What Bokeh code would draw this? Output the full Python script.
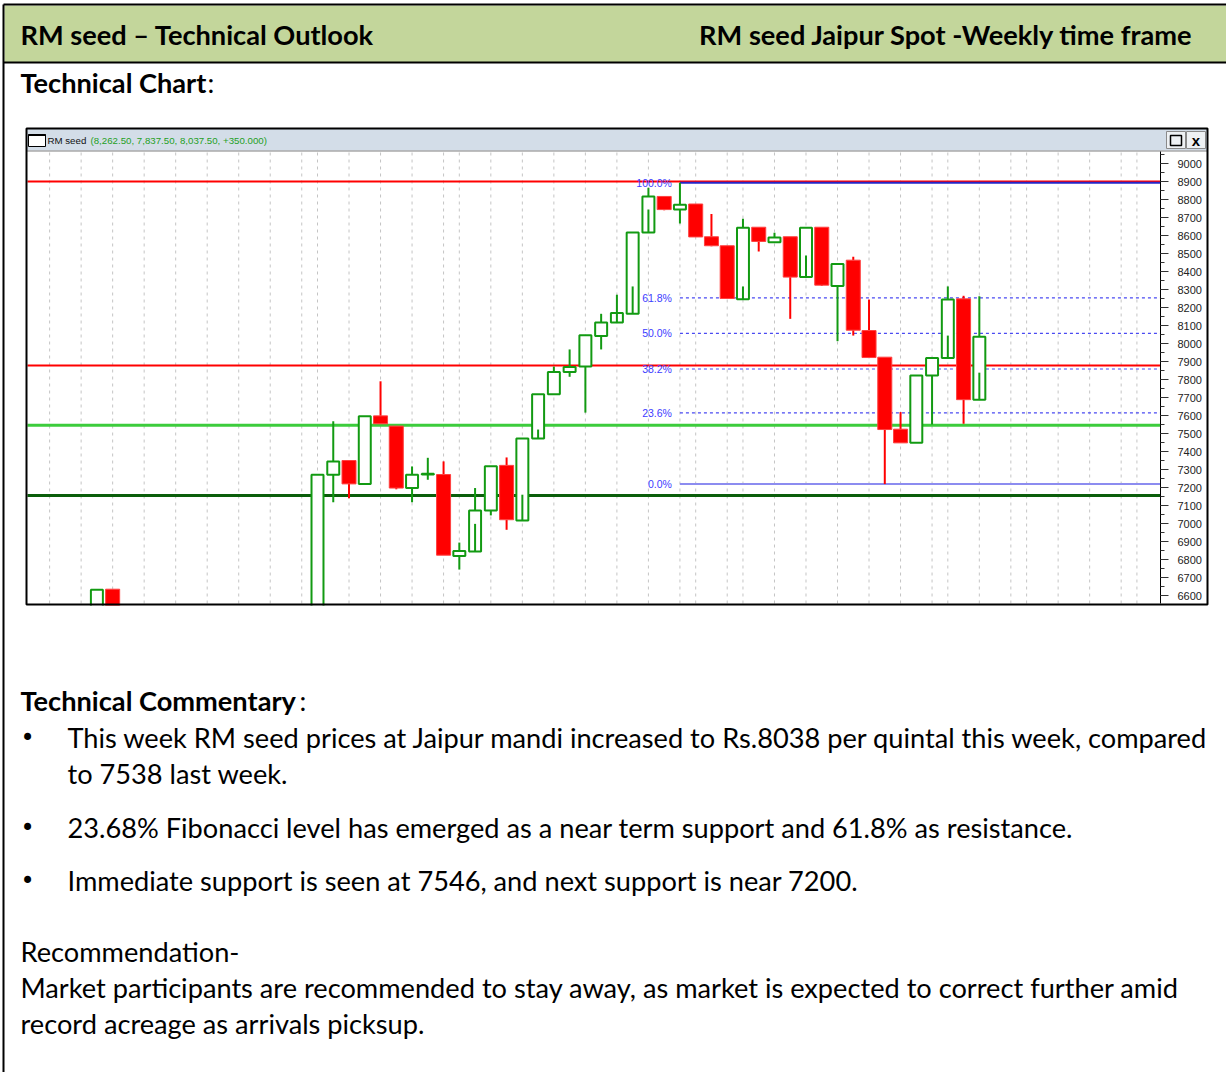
import numpy as np
from bokeh.plotting import figure
from bokeh.models import Range1d, LinearAxis, SingleIntervalTicker, ColumnDataSource
from bokeh.core.properties import value
from bokeh.embed import file_html
from bokeh.resources import INLINE

nan = float("nan")

# ---------------- data (weekly candles, week index) ----------------
weeks = [-14, -13, 0, 1, 2, 3, 4, 5, 6, 7, 8, 9, 10, 11, 12, 13, 14, 15, 16, 17, 18, 19,
         20, 21, 22, 23, 24, 25, 26, 27, 28, 29, 30, 31, 32, 33, 34, 35, 36, 37, 38, 39,
         40, 41, 42]
opens = [6480, 6635, 6500, 7271, 7350, 7220, 7598, 7541, 7197, 7272, 7272, 6820, 6844,
         7072, 7323, 7017, 7472, 7718, 7841, 7872, 8041, 8117, 8165, 8617, 8817, 8744,
         8775, 8593, 8543, 8246, 8646, 8563, 8593, 8369, 8646, 8320, 8463, 8072, 7924,
         7524, 7448, 7822, 7920, 8248, 7687.5]
highs = [6632, 6635, 7271, 7568, 7350, 7596, 7790, 7541, 7317, 7365, 7345, 6894, 7197,
         7318, 7367, 7472, 7718, 7872, 7967, 8046, 8165, 8271, 8617, 8865, 8817, 8893,
         8775, 8719, 8543, 8693, 8646, 8615, 8593, 8643, 8646, 8441, 8482, 8244, 7924,
         7619, 7822, 7920, 8317, 8265, 8262.5]
lows = [6450, 6450, 6480, 7118, 7140, 7220, 7554, 7190, 7118, 7243, 6824, 6744, 6844,
        7045, 6965, 7017, 7472, 7718, 7815, 7616, 7967, 8117, 8165, 8617, 8740, 8667,
        8592, 8540, 8250, 8246, 8511, 8563, 8137, 8369, 8320, 8013, 8044, 7922, 7219,
        7448, 7448, 7550, 7920, 7554, 7687.5]
closes = [6632, 6480, 7271, 7345, 7220, 7596, 7554, 7197, 7271, 7276, 6824, 6847, 7072,
          7318, 7021, 7472, 7718, 7841, 7870, 8046, 8117, 8169, 8617, 8817, 8744, 8771,
          8592, 8543, 8250, 8643, 8567, 8589, 8369, 8643, 8324, 8441, 8074, 7922, 7522,
          7448, 7822, 7920, 8245, 7688, 8037.5]
# inner wick trace visible inside some hollow candles
inner_hi = [nan, nan, nan, nan, nan, nan, nan, nan, nan, nan, nan, nan, 6998,
            nan, nan, 7160, 7522, nan, nan, nan, nan, 8169, 8317, 8744, nan, nan,
            nan, nan, nan, 8317, nan, nan, nan, 8489, nan, nan, nan, nan, nan,
            nan, nan, nan, 8044, nan, 7838]

grid_weeks = [-17, -15, -13, -11, -9, -7, -5, -3, -1, 0, 2, 4, 6, 8, 9, 11, 13, 15, 17,
              19, 21, 23, 24, 26, 27, 29, 31, 33, 35, 37, 39, 40, 42, 44, 45, 47, 49, 51, 52]

hline_levels = [8900, 7878, 7546, 7155]
hline_colors = ["#ff0000", "#ff0000", "#3ccc3c", "#0b5e0b"]
hline_widths = [2, 2, 3, 3]

fib_ratios = [1.0, 0.618, 0.5, 0.382, 0.236, 0.0]
fib_hi_week = 23
fib_lo_week = 36

header_name = "RM seed"
header_values = "(8,262.50, 7,837.50, 8,037.50, +350.000)"

title_left = "RM seed \u2013 Technical Outlook"
title_right = "RM seed Jaipur Spot -Weekly time frame"
section1 = "Technical Chart"
section2 = "Technical Commentary"
bullet_lines = [
    "This week RM seed prices at Jaipur mandi increased to Rs.8038 per quintal this week, compared",
    "to 7538 last week.",
    "23.68% Fibonacci level has emerged as a near term support and 61.8% as resistance.",
    "Immediate support is seen at 7546, and next support is near 7200.",
]
reco_lines = [
    "Recommendation-",
    "Market participants are recommended to stay away, as market is expected to correct further amid",
    "record acreage as arrivals picksup.",
]

# ---------------- page geometry (screen pixels) ----------------
W, H = 1226, 1072
WEEK0_PX, PX_PER_WEEK = 317.0, 15.758
P9000_PX, PX_PER_UNIT = 163.0, 0.18


def wk(px):
    return (px - WEEK0_PX) / PX_PER_WEEK


def pr(py):
    return 9000 - (py - P9000_PX) / PX_PER_UNIT


PLOT_L, PLOT_R, PLOT_T, PLOT_B = 27, 1160, 151, 603
WIN_L, WIN_R, WIN_T, WIN_B = 26, 1207, 128, 604

p = figure(width=W, height=H, x_range=Range1d(0, W), y_range=Range1d(H, 0),
           output_backend="svg", toolbar_location=None, min_border=0,
           x_axis_location=None, y_axis_location=None)
p.grid.visible = False
p.outline_line_color = None
p.background_fill_color = "white"
p.border_fill_color = "white"
p.extra_x_ranges = {"week": Range1d(wk(0), wk(W))}
p.extra_y_ranges = {"price": Range1d(pr(H), pr(0))}

FONT = value("Lato")
SMALL = value("Liberation Sans")

# page border + title bar
p.quad(left=[4], right=[W], top=[5], bottom=[62], fill_color="#c3d69b", line_color=None)
p.segment(x0=[3, 3, 3], y0=[4, 62, 4], x1=[W, W, 3], y1=[4, 62, H],
          line_color="black", line_width=2)

# chart window
p.quad(left=[WIN_L], right=[WIN_R], top=[WIN_T], bottom=[WIN_B], fill_color="white", line_color=None)
p.quad(left=[WIN_L], right=[WIN_R], top=[WIN_T], bottom=[150], fill_color="#d3dde8", line_color=None)
p.segment(x0=[WIN_L], y0=[150.5], x1=[WIN_R], y1=[150.5], line_color="#808080", line_width=1)

# vertical dashed grid
p.segment(x0=grid_weeks, x1=grid_weeks, y0=[pr(PLOT_B)] * len(grid_weeks),
          y1=[pr(PLOT_T)] * len(grid_weeks), x_range_name="week", y_range_name="price",
          line_color="#c4c4c4", line_width=1, line_dash="3 4")

# horizontal support/resistance lines
hsrc = ColumnDataSource(dict(x0=[wk(PLOT_L)] * len(hline_levels), x1=[wk(PLOT_R)] * len(hline_levels),
                             y=hline_levels, c=hline_colors, w=hline_widths))
p.segment(x0="x0", x1="x1", y0="y", y1="y", line_color="c", line_width="w", source=hsrc,
          x_range_name="week", y_range_name="price")

# fibonacci levels
op = np.array(opens, float)
hi = np.array(highs, float)
lo = np.array(lows, float)
cl = np.array(closes, float)
wk_arr = np.array(weeks, float)
fib_hi = hi[weeks.index(fib_hi_week)]
fib_lo = lo[weeks.index(fib_lo_week)]
fib_levels = [fib_lo + r * (fib_hi - fib_lo) for r in fib_ratios]
fib_labels = ["%.1f%%" % (r * 100) for r in fib_ratios]
mid = fib_levels[1:-1]
p.segment(x0=[fib_hi_week] * len(mid), x1=[wk(PLOT_R)] * len(mid), y0=mid, y1=mid,
          x_range_name="week", y_range_name="price", line_color="#4a4af2", line_width=1.2,
          line_dash="3 3")
p.segment(x0=[fib_hi_week], x1=[wk(PLOT_R)], y0=[fib_levels[-1]], y1=[fib_levels[-1]],
          x_range_name="week", y_range_name="price", line_color="#8c8cf0", line_width=2)
p.segment(x0=[fib_hi_week], x1=[wk(PLOT_R)], y0=[fib_levels[0]], y1=[fib_levels[0]],
          x_range_name="week", y_range_name="price", line_color="#2626c8", line_width=2)

# candles
up = cl >= op
top = np.maximum(op, cl)
bot = np.minimum(op, cl)
for mask, col in ((up, "#129a12"), (~up, "#ff0000")):
    p.segment(x0=wk_arr[mask], x1=wk_arr[mask], y0=hi[mask], y1=top[mask],
              x_range_name="week", y_range_name="price", line_color=col, line_width=2)
    p.segment(x0=wk_arr[mask], x1=wk_arr[mask], y0=bot[mask], y1=lo[mask],
              x_range_name="week", y_range_name="price", line_color=col, line_width=2)
p.vbar(x=wk_arr[~up], width=0.89, top=top[~up], bottom=bot[~up], x_range_name="week",
       y_range_name="price", fill_color="#ff0000", line_color="#ff4040", line_width=1)
p.vbar(x=wk_arr[up], width=0.76, top=top[up], bottom=bot[up], x_range_name="week",
       y_range_name="price", fill_color="white", line_color="#129a12", line_width=2)
ih = np.array(inner_hi, float)
m2 = ~np.isnan(ih)
p.segment(x0=wk_arr[m2], x1=wk_arr[m2], y0=bot[m2], y1=ih[m2], x_range_name="week",
          y_range_name="price", line_color="#129a12", line_width=2)

# fib labels
p.text(x=[fib_hi_week] * len(fib_levels), y=fib_levels, text=fib_labels, x_offset=-8,
       x_range_name="week", y_range_name="price", text_align="right", text_baseline="middle",
       text_font=SMALL, text_font_size="10.5px", text_color="#3c3cff")

# mask below chart window, then window border
p.quad(left=[WIN_L - 2], right=[WIN_R + 2], top=[WIN_B + 1], bottom=[660], fill_color="white",
       line_color=None)
p.quad(left=[WIN_L], right=[WIN_R], top=[WIN_T], bottom=[WIN_B], fill_color=None,
       line_color="black", line_width=2)

# header bar contents
p.quad(left=[28], right=[45], top=[134], bottom=[146], fill_color="white", line_color="black",
       line_width=1)
p.segment(x0=[28], x1=[45], y0=[134.5], y1=[134.5], line_color="black", line_width=2)
p.text(x=[47], y=[139.5], text=[header_name], text_font=SMALL, text_font_size="9.7px",
       text_baseline="middle", text_color="#111111")
p.text(x=[90], y=[139.5], text=[header_values], text_font=SMALL, text_font_size="9.7px",
       text_baseline="middle", text_color="#1f9f1f")
p.quad(left=[1166, 1186], right=[1185, 1205], top=[131, 131], bottom=[148, 148],
       fill_color="#eef1f4", line_color="#8a8a8a", line_width=1)
p.quad(left=[1170], right=[1181], top=[135], bottom=[145], fill_color=None, line_color="black",
       line_width=1.5)
p.text(x=[1195.5], y=[140], text=["x"], text_font=SMALL, text_font_size="15px",
       text_font_style="bold", text_align="center", text_baseline="middle", text_color="black")

# price axis
yax = LinearAxis(y_range_name="price", fixed_location=PLOT_R, bounds=(pr(PLOT_B), pr(PLOT_T)),
                 ticker=SingleIntervalTicker(interval=100, num_minor_ticks=2))
yax.axis_line_color = "black"
yax.major_tick_in = 0
yax.major_tick_out = 8
yax.minor_tick_in = 0
yax.minor_tick_out = 4
yax.major_tick_line_color = "#333333"
yax.minor_tick_line_color = "#333333"
yax.major_label_text_font = "Liberation Sans"
yax.major_label_text_font_size = "11px"
yax.major_label_text_color = "#222222"
yax.major_label_standoff = 9
p.add_layout(yax, "right")

# page texts
TXT = "27.2px"
p.text(x=[20], y=[34], text=[title_left], text_font=FONT, text_font_size=TXT,
       text_font_style="bold", text_baseline="middle", text_color="black")
p.text(x=[1193], y=[34], text=[title_right], text_font=FONT, text_font_size=TXT,
       text_font_style="bold", text_baseline="middle", text_align="right", text_color="black")
p.text(x=[20, 20], y=[82, 700], text=[section1, section2], text_font=FONT, text_font_size=TXT,
       text_font_style="bold", text_baseline="middle", text_color="black")
p.text(x=[207, 299], y=[82, 700], text=[":", ":"], text_font=FONT, text_font_size=TXT,
       text_baseline="middle", text_color="black")
p.text(x=[27, 27, 27], y=[737, 827, 880], text=["\u2022"] * 3, text_font=value("DejaVu Sans"),
       text_font_size="24px", text_baseline="middle", text_align="center", text_color="black")
p.text(x=[67] * 4, y=[737, 773, 827, 880], text=bullet_lines, text_font=FONT, text_font_size=TXT,
       text_baseline="middle", text_color="black")
p.text(x=[20] * 3, y=[951, 987, 1023], text=reco_lines, text_font=FONT, text_font_size=TXT,
       text_baseline="middle", text_color="black")

open("out.html", "w").write(file_html(p, INLINE))
